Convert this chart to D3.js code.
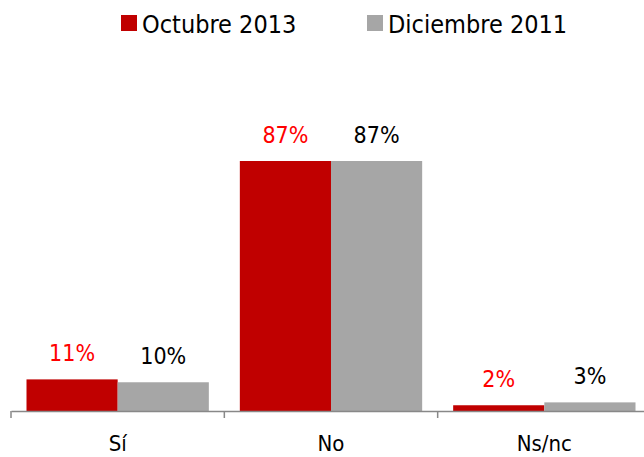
<!DOCTYPE html>
<html>
<head>
<meta charset="utf-8">
<script src="https://cdn.jsdelivr.net/npm/d3@7"></script>
<style>
body{margin:0;background:#fff;}
text{font-family:"DejaVu Sans Condensed","DejaVu Sans",sans-serif;}
</style>
</head>
<body>
<div class="box"></div>
<script>
const categories=['Sí','No','Ns/nc'];
const series=['Octubre 2013','Diciembre 2011'];
const oct2013=[11,87,2];
const dic2011=[10,87,3];
const barColors=['#c00000','#a6a6a6'];
const labelColors=['#ff0000','#000000'];

const W=644,H=457;
const svg=d3.select('.box').append('svg').attr('width',W).attr('height',H).style('background','white');
const baseY=411;
const x=d3.scaleBand().domain(categories).range([11,651]).paddingInner(0).paddingOuter(0);
const x1=d3.scaleBand().domain(series).range([0,x.bandwidth()]).paddingInner(0).paddingOuter(0.17);
const y=d3.scaleLinear().domain([0,87]).range([baseY,161]);

const data=categories.map((c,i)=>({cat:c,vals:[oct2013[i],dic2011[i]]}));

const groups=svg.selectAll('g.grp').data(data).enter().append('g')
  .attr('transform',d=>`translate(${x(d.cat)},0)`);

groups.selectAll('rect').data(d=>d.vals.map((v,j)=>({s:series[j],v,j}))).enter().append('rect')
  .attr('x',d=>x1(d.s))
  .attr('width',x1.bandwidth())
  .attr('y',d=>y(d.v))
  .attr('height',d=>baseY-y(d.v))
  .attr('fill',d=>barColors[d.j]);

groups.selectAll('text.val').data(d=>d.vals.map((v,j)=>({s:series[j],v,j}))).enter().append('text')
  .attr('class','val')
  .attr('x',d=>x1(d.s)+x1.bandwidth()/2)
  .attr('y',d=>y(d.v)-18)
  .attr('text-anchor','middle')
  .attr('font-size',23)
  .attr('fill',d=>labelColors[d.j])
  .text(d=>d.v+'%');

// axis
const axis=d3.axisBottom(x).tickSize(0).tickPadding(24);
const gX=svg.append('g').attr('transform',`translate(0,${baseY})`).call(axis);
gX.select('.domain').attr('stroke','#888').attr('stroke-width',1.5);
gX.selectAll('text').attr('font-size',22).attr('fill','#000').style('font-family','"DejaVu Sans Condensed","DejaVu Sans",sans-serif');
// category separators
const bounds=categories.map(c=>x(c)).concat([x.range()[1]]);
gX.selectAll('line.sep').data(bounds).enter().append('line')
  .attr('x1',d=>d).attr('x2',d=>d).attr('y1',0).attr('y2',7)
  .attr('stroke','#888').attr('stroke-width',1.5);

// legend
const legX=[121,367];
const leg=svg.append('g');
series.forEach((s,i)=>{
  leg.append('rect').attr('x',legX[i]).attr('y',15).attr('width',16).attr('height',16).attr('fill',barColors[i]);
  leg.append('text').attr('x',legX[i]+21).attr('y',33).attr('font-size',25).attr('fill','#000').text(s);
});
</script>
</body>
</html>
